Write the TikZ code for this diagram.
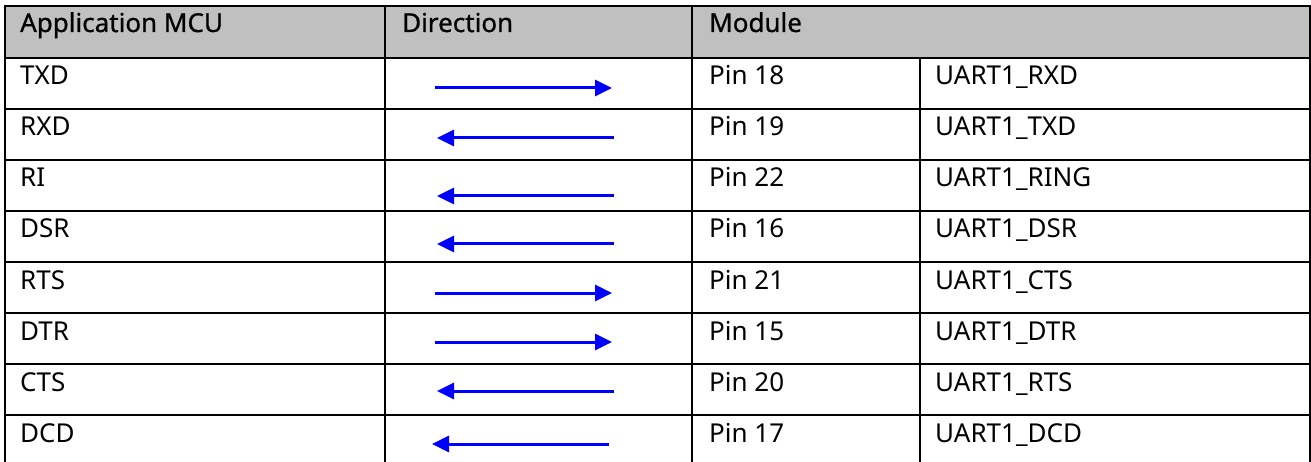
\documentclass[tikz,border=0pt]{standalone}
\usepackage{fontspec}
\setmainfont{Noto Sans}
\newfontfamily\hdrfont[FakeBold=0.8]{Noto Sans}
\usetikzlibrary{arrows.meta}
\definecolor{hdrgray}{RGB}{192,192,192}
\definecolor{sigblue}{RGB}{0,0,255}
\begin{document}
\begin{tikzpicture}[x=1pt,y=-1pt,
  rule/.style={line width=2.2pt, black},
  thinrule/.style={line width=1.4pt, black},
  celltext/.style={anchor=base west, inner sep=0pt, font=\fontsize{26}{30}\selectfont},
  hdrtext/.style={anchor=base west, inner sep=0pt, font=\hdrfont\fontsize{26}{30}\selectfont},
  sig/.style={sigblue, line width=3pt, -{Triangle[length=17pt,width=16pt]}}]
\useasboundingbox (0,0) rectangle (1311,462);
% header background
\fill[hdrgray] (5,6) rectangle (1310,58);
% header texts
\node[hdrtext] (h1) at (20,32) {Application MCU};
\node[hdrtext] (h2) at (402,32) {Direction};
\node[hdrtext] (h3) at (709,32) {Module};
% horizontal rules
\draw[rule] (4,6) -- (1311,6);
\foreach \yy in {58,109,160,211,262,313,364,415} {
  \draw[rule] (4,\yy) -- (1311,\yy);
}
% vertical rules
\draw[rule] (5,5) -- (5,462);
\draw[rule] (385,5) -- (385,462);
\draw[rule] (692,5) -- (692,462);
\draw[rule] (920,58) -- (920,462);
\draw[rule] (1310,5) -- (1310,58);
\draw[thinrule] (1310,58) -- (1310,462);
% rows: index/mcu/pin/signal/arrow y/direction/arrow left x
\foreach \i/\mcu/\pin/\signame/\ay/\dir/\ax in {
  0/TXD/Pin 18/UART1\_RXD/88/r/435,
  1/RXD/Pin 19/UART1\_TXD/138/l/437,
  2/RI/Pin 22/UART1\_RING/196/l/437,
  3/DSR/Pin 16/UART1\_DSR/244/l/437,
  4/RTS/Pin 21/UART1\_CTS/293/r/435,
  5/DTR/Pin 15/UART1\_DTR/342/r/435,
  6/CTS/Pin 20/UART1\_RTS/391/l/437,
  7/DCD/Pin 17/UART1\_DCD/444/l/432} {
  \pgfmathsetmacro{\by}{58+51*\i+27}
  \node[celltext] (m\i) at (20,\by) {\mcu};
  \node[celltext] (p\i) at (709,\by) {\pin};
  \node[celltext] (s\i) at (935,\by) {\signame};
  \coordinate (aL\i) at (\ax,\ay);
  \coordinate (aR\i) at ({\ax+177},\ay);
  \if r\dir
    \draw[sig] (aL\i) -- (aR\i);
  \else
    \draw[sig] (aR\i) -- (aL\i);
  \fi
}
\end{tikzpicture}
\end{document}
